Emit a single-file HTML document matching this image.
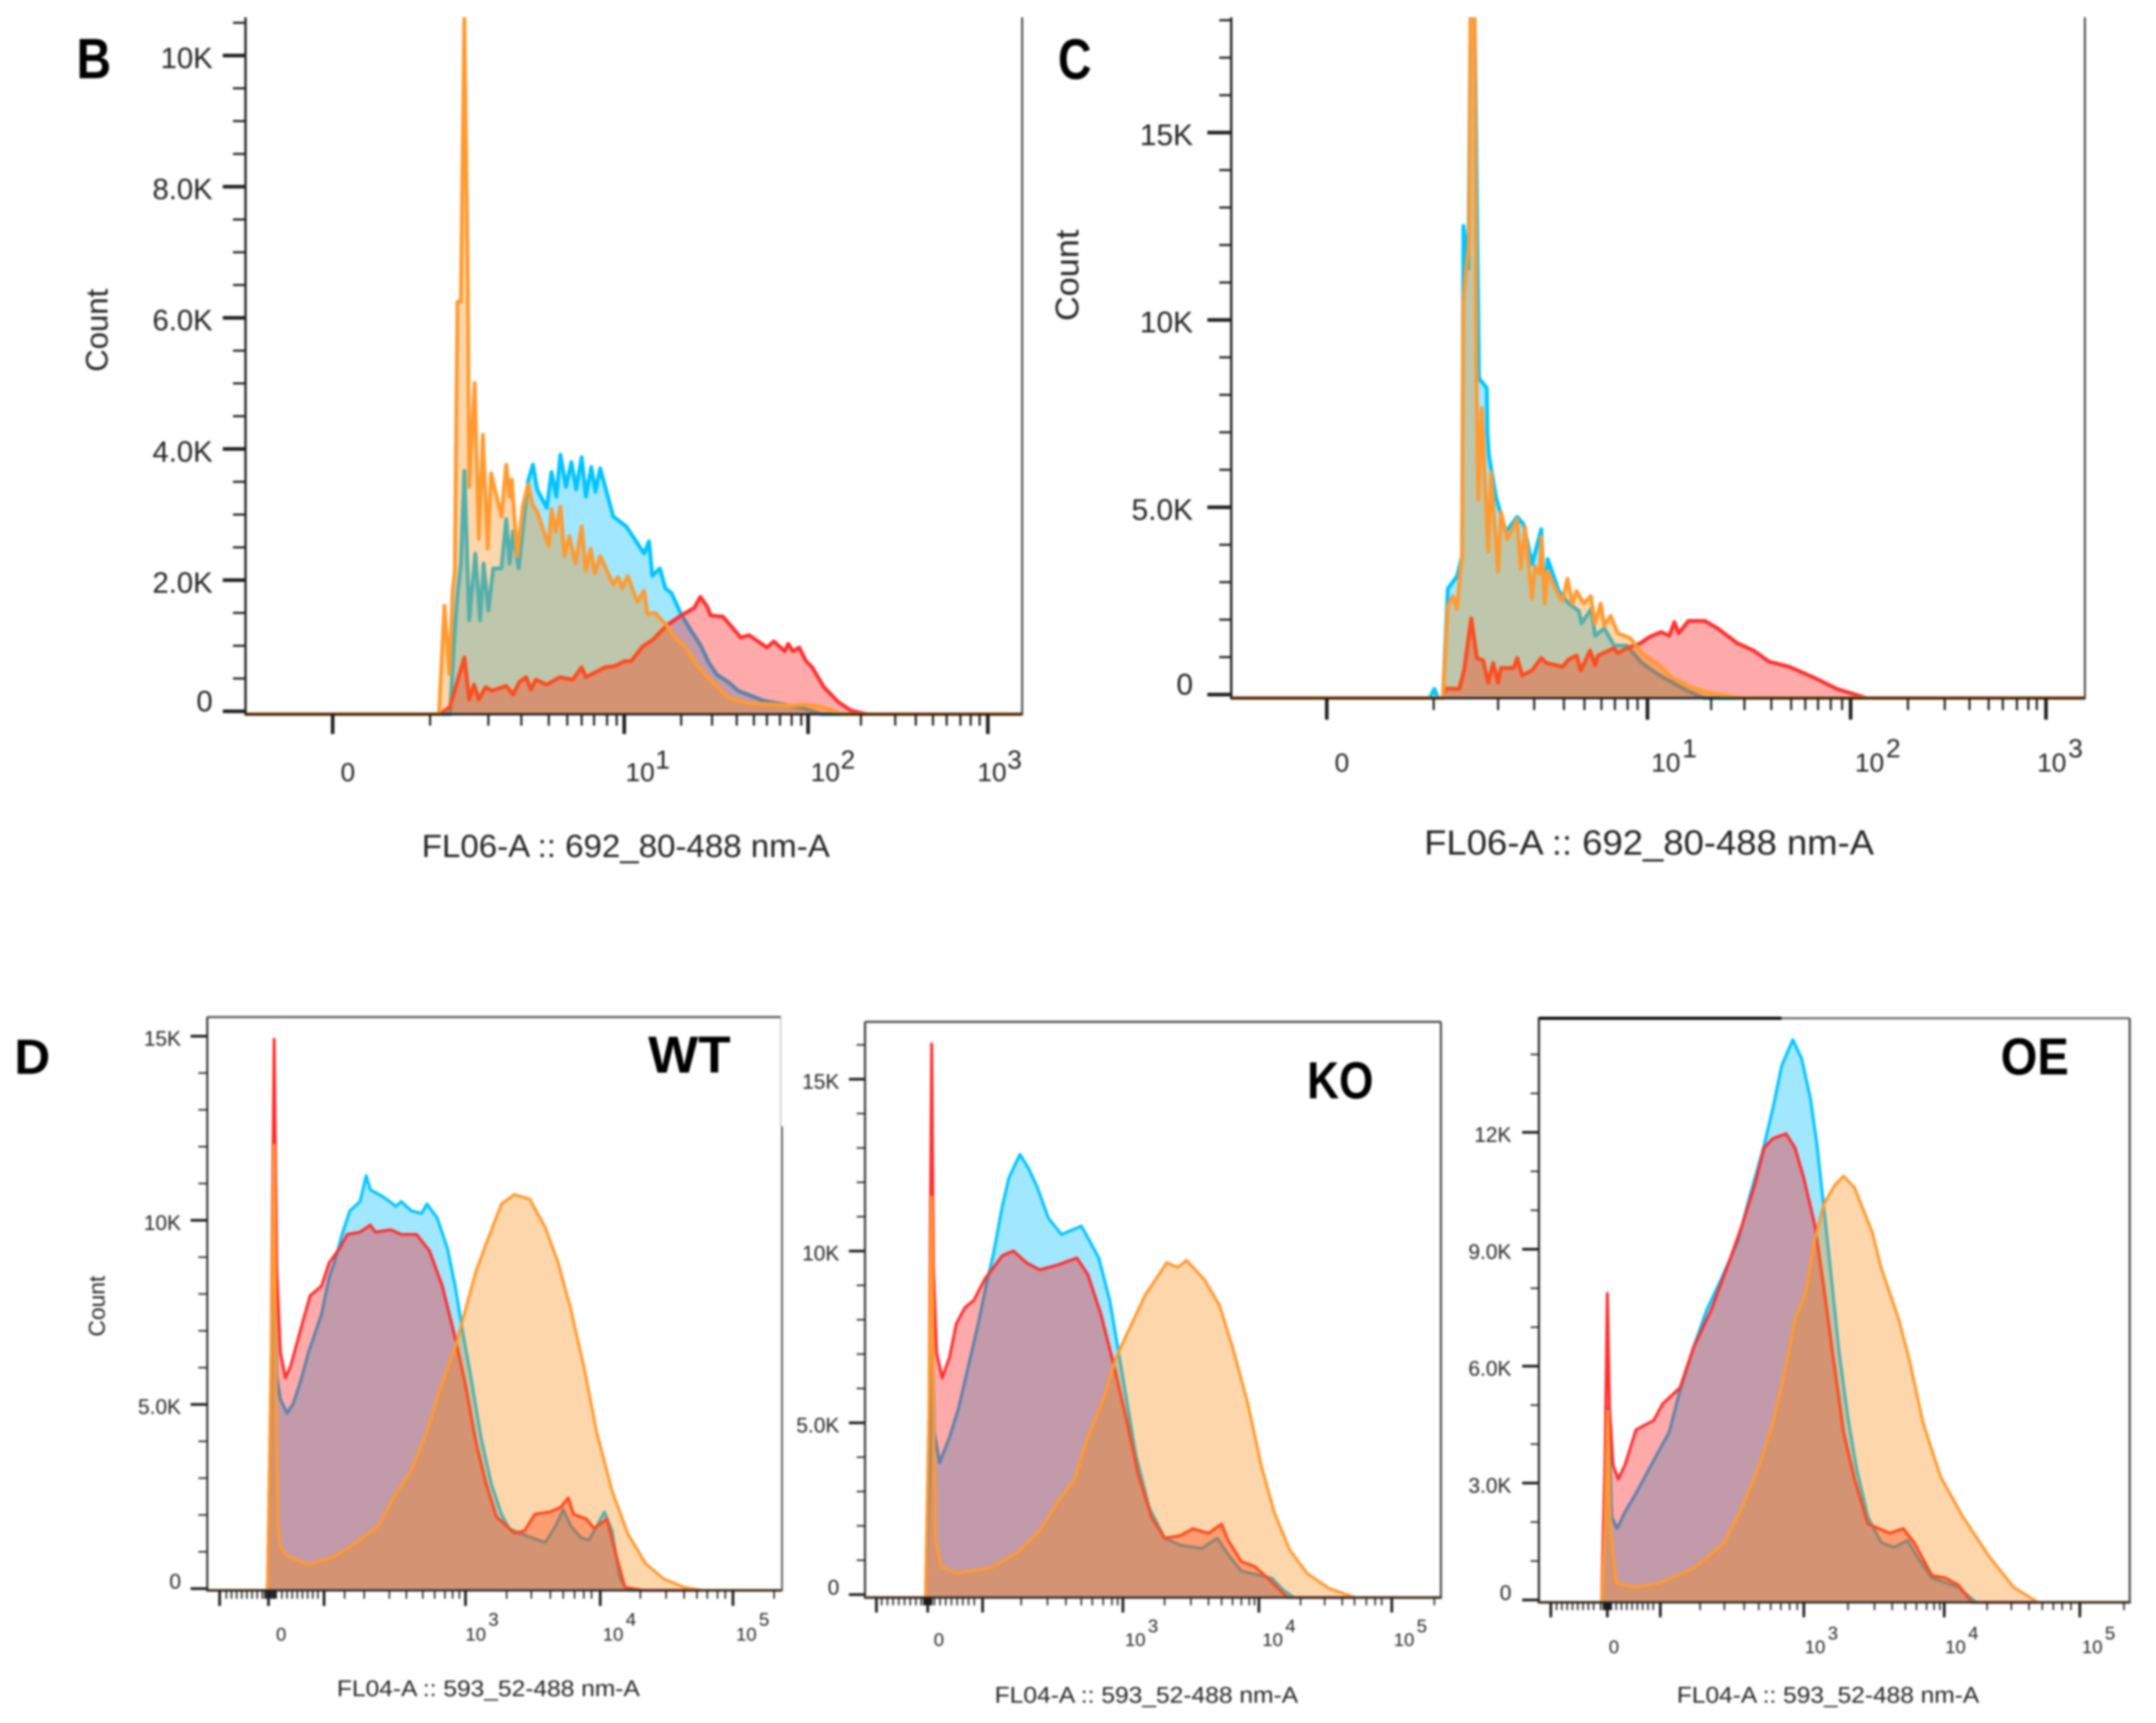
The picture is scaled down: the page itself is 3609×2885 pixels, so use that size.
<!DOCTYPE html>
<html lang="en">
<head>
<meta charset="utf-8">
<title>Flow cytometry histograms</title>
<style>
html,body{margin:0;padding:0;background:#fff;}
svg{display:block;width:3609px;height:2885px;filter:blur(1.9px);font-family:"Liberation Sans",Arial,sans-serif;}
</style>
</head>
<body>
<svg id="figure" xmlns="http://www.w3.org/2000/svg" width="3609" height="2885" viewBox="0 0 3609 2885">
<rect x="0" y="0" width="3609" height="2885" fill="#fff"/>
<g id="panel-b"></g>
<g id="panel-c"></g>
<g id="panel-wt"></g>
<g id="panel-ko"></g>
<g id="panel-oe"></g>
<g font-weight="bold" fill="#000">
<text x="128" y="131" font-size="96" textLength="58" lengthAdjust="spacingAndGlyphs">B</text>
<text x="1771" y="132" font-size="96" textLength="56" lengthAdjust="spacingAndGlyphs">C</text>
<text x="24" y="1798" font-size="83" textLength="60" lengthAdjust="spacingAndGlyphs">D</text>
<text x="1085" y="1796" font-size="87" textLength="138" lengthAdjust="spacingAndGlyphs">WT</text>
<text x="2188" y="1839" font-size="87" textLength="111" lengthAdjust="spacingAndGlyphs">KO</text>
<text x="3349" y="1799" font-size="87" textLength="114" lengthAdjust="spacingAndGlyphs">OE</text>
</g>
<g fill="#222">
<text transform="translate(180 553) rotate(-90)" text-anchor="middle" font-size="52" textLength="139" lengthAdjust="spacingAndGlyphs">Count</text>
<text transform="translate(1805 461) rotate(-90)" text-anchor="middle" font-size="55" textLength="153" lengthAdjust="spacingAndGlyphs">Count</text>
<text transform="translate(175 2187) rotate(-90)" text-anchor="middle" font-size="38" textLength="102" lengthAdjust="spacingAndGlyphs">Count</text>
<text x="706" y="1435" font-size="54" textLength="683" lengthAdjust="spacingAndGlyphs">FL06-A :: 692_80-488 nm-A</text>
<text x="2384" y="1431" font-size="58" textLength="753" lengthAdjust="spacingAndGlyphs">FL06-A :: 692_80-488 nm-A</text>
<text x="564" y="2840" font-size="38" textLength="507" lengthAdjust="spacingAndGlyphs">FL04-A :: 593_52-488 nm-A</text>
<text x="1665" y="2851" font-size="38" textLength="508" lengthAdjust="spacingAndGlyphs">FL04-A :: 593_52-488 nm-A</text>
<text x="2807" y="2851" font-size="38" textLength="506" lengthAdjust="spacingAndGlyphs">FL04-A :: 593_52-488 nm-A</text>
</g>
</svg>
<script>
/* ---------- Panel B data ---------- */
const bBlueChannels=[0,298,305,309,314,319,326,335,342,347,354,361,373,380,385,390,398,412,419,425,439,446,453,459,467,475,482,490,496,504,510,517,536,543,555,567,581,588,593,604,612,621,635,649,663,675,687,704,718,755,812,840,1132];
const bBlueCounts=[0,0,1236,1800,2254,3668,1387,2405,1387,2254,1537,2179,2179,2932,2254,2744,2179,3517,3762,3385,3102,3649,3272,3913,3423,3800,3385,3875,3272,3724,3347,3705,2970,2914,2819,2631,2405,2593,2065,2179,1877,1801,1481,1236,1010,746,557,444,312,162,48,0,0];
const bRedChannels=[0,283,298,319,326,333,340,350,359,380,390,399,409,416,423,439,458,477,490,496,524,538,553,562,579,593,614,635,654,663,673,678,696,722,734,760,770,786,791,798,807,817,826,843,864,883,907,1132];
const bRedCounts=[0,0,68,821,180,407,180,369,312,388,256,444,520,331,482,407,520,482,670,520,670,689,765,765,991,1085,1311,1462,1575,1745,1594,1462,1443,1123,1161,972,1066,915,1029,915,972,765,670,369,142,10,0,0];
const bOrangeChannels=[0,282,290,297,302,305,309,314,319,324,326,334,340,346,353,358,373,380,385,388,396,404,412,418,425,442,446,452,459,465,472,481,490,496,503,509,517,536,543,549,557,571,581,586,597,614,626,642,656,673,685,704,732,770,793,817,840,869,1132];
const bOrangeCounts=[0,0,1610,566,1830,2130,6245,6245,10580,6490,3420,5006,2630,4214,2480,3630,2970,3760,3270,3535,2367,3120,3460,3159,3045,2518,3083,2744,3121,2367,2669,2254,2819,2141,2480,2103,2367,1934,2046,1877,2065,1670,1839,1481,1500,1311,1123,972,727,520,407,200,124,105,86,105,67,0,0];
const bYTickValues=[0,2000,4000,6000,8000,10000];
const bYTickLabels=['0','2.0K','4.0K','6.0K','8.0K','10K'];
const bYMinorValues=[500,1000,1500,2500,3000,3500,4500,5000,5500,6500,7000,7500,8500,9000,9500,10500];
const bXMajorChannels=[127,552,820,1082];
const bXMinorChannels=[269,354,402,442,469,490,508,527,541,635,680,716,741,760,779,796,810,897,947,977,1002,1022,1042,1057,1070];
const bXTickBases=['0','10','10','10'];
const bXTickExponents=['','1','2','3'];

/* ---------- Panel C data ---------- */
const cBlueChannels=[0,280,287,292,299,306,319,326,328,335,338,344,350,361,362,364,374,388,404,413,425,438,443,447,463,477,491,495,509,514,527,541,559,580,605,646,669,1206];
const cBlueCounts=[0,0,150,0,0,2826,3156,3685,12513,11370,18083,18083,8444,8180,6990,6395,5272,4346,4742,4544,3487,4412,2429,3619,2759,2429,2231,1900,2297,1570,1768,1305,1305,843,512,83,0,0];
const cRedChannels=[0,298,303,322,329,339,347,356,363,370,377,381,399,404,411,425,438,445,468,477,488,494,507,514,518,541,546,559,578,591,607,619,626,632,646,669,687,715,738,760,788,824,856,898,1206];
const cRedCounts=[0,0,165,149,644,2032,975,909,314,843,314,710,710,975,512,644,975,843,743,942,1041,644,1173,777,1041,1239,1107,1239,1371,1537,1669,1570,1933,1636,1966,1966,1768,1371,1173,876,743,446,149,0,0];
const cOrangeChannels=[0,299,306,313,319,324,326,328,332,336,338,344,346,349,354,363,367,377,381,390,404,409,415,425,429,436,438,443,447,463,468,475,482,488,498,508,514,522,527,536,546,564,580,605,623,651,674,719,1206];
const cOrangeCounts=[0,0,2363,2627,2297,3355,3600,10500,11370,12000,18083,18083,9000,5200,7651,3817,5933,3288,4875,4148,4676,3355,4478,2561,3421,3222,4214,2429,3288,2627,2495,3090,2429,2759,2429,2627,1900,2429,1834,2099,1636,1504,1107,777,446,181,50,0,0];
const cYTickValues=[0,5000,10000,15000];
const cYTickLabels=['0','5.0K','10K','15K'];
const cYMinorValues=[1000,2000,3000,4000,6000,7000,8000,9000,11000,12000,13000,14000,16000,17000,18000];
const cXMajorChannels=[135,588,875,1151];
const cXMinorChannels=[286,377,428,470,499,523,542,560,574,678,725,763,791,811,829,847,863,956,1008,1043,1070,1090,1110,1126,1138];
const cXTickBases=['0','10','10','10'];
const cXTickExponents=['','1','2','3'];

/* ---------- Panel WT data ---------- */
const wtBlueChannels=[0,117,122,130,135,142,155,167,182,197,222,237,247,262,277,297,309,317,342,367,377,397,417,427,447,467,482,497,512,532,552,572,587,607,632,657,677,692,707,727,742,772,787,802,817,1115];
const wtBlueCounts=[0,0,3614,10000,5785,5146,4763,5019,5657,6423,7445,8467,8850,9616,10254,10510,11212,10829,10637,10382,10510,10254,10190,10446,10063,9233,8211,6934,5785,4125,2848,2018,1635,1507,1379,1251,1698,2145,1698,1379,1315,2082,1571,294,0,0];
const wtRedChannels=[0,117,124,130,135,142,152,162,182,200,222,237,257,272,297,317,327,357,377,407,432,457,482,502,522,542,562,597,617,637,667,687,702,712,737,752,777,792,812,847,1115];
const wtRedCounts=[0,0,6168,14915,8722,6423,5721,6040,7062,7956,8211,8850,9233,9616,9680,9871,9680,9744,9616,9616,9169,8211,6806,5529,3997,2848,1954,1507,1571,2018,2082,2209,2465,2018,1890,1635,1890,1060,38,0,0];
const wtOrangeChannels=[0,117,124,130,134,137,142,157,197,247,297,332,362,397,427,452,482,502,522,542,572,597,627,657,682,707,732,757,787,817,852,887,927,962,1115];
const wtOrangeCounts=[0,0,6168,12042,4891,1698,1124,868,651,868,1315,1698,2465,3231,4252,5402,6551,7573,8594,9360,10446,10701,10574,9807,8850,7573,6040,4252,2656,1507,677,268,38,0,0];
const wtYTickValues=[0,5000,10000,15000];
const wtYTickLabels=['0','5.0K','10K','15K'];
const wtYMinorValues=[1000,2000,3000,4000,6000,7000,8000,9000,11000,12000,13000,14000];
const wtXMajorChannels=[24,119,227,502,764,1022];
const wtXMinorChannels=[37,47,57,67,77,87,97,107,112,115,122,125,128,131,134,145,155,165,175,185,195,205,215,267,305,354,387,419,442,462,477,490,582,630,667,692,714,732,747,842,892,927,952,972,992,1007,1102];
const wtXTickBases=['0','10','10','10'];
const wtXTickExponents=['','3','4','5'];

/* ---------- Panel KO data ---------- */
const koBlueChannels=[0,138,148,153,158,170,193,213,233,258,278,293,313,328,353,373,393,418,448,493,513,533,558,578,598,618,648,683,718,768,803,828,858,928,953,978,1313];
const koBlueCounts=[0,0,4042,8150,4727,3836,4590,5412,6508,7878,9111,9933,11303,12125,12810,12399,11851,10960,10481,10727,10275,9796,8563,7056,5549,4042,2535,1644,1439,1343,1644,1165,685,480,137,0,0];
const koRedChannels=[0,138,146,152,156,163,176,193,208,228,248,273,293,313,338,368,398,438,483,508,538,568,598,623,653,683,718,748,783,813,828,858,888,918,963,1313];
const koRedCounts=[0,0,5412,16029,9522,7056,6302,6919,7878,8357,8563,9179,9522,9864,10001,9659,9453,9590,9796,9316,8152,6645,5001,3494,2261,1644,1713,1918,1781,2055,1576,959,822,480,0,0];
const koOrangeChannels=[0,138,146,152,156,161,173,208,288,348,398,438,478,508,543,573,608,638,663,688,713,733,773,808,838,873,903,933,968,1008,1058,1118,1153,1313];
const koOrangeCounts=[0,0,5412,11577,5412,1576,822,617,781,1233,1850,2672,3357,4590,5686,6919,7878,8700,9179,9659,9522,9727,9179,8426,7193,5549,3768,2398,1302,617,178,0,0,0];
const koYTickValues=[0,5000,10000,15000];
const koYTickLabels=['0','5.0K','10K','15K'];
const koYMinorValues=[1000,2000,3000,4000,6000,7000,8000,9000,11000,12000,13000,14000,16000];
const koXMajorChannels=[26,143,268,588,898,1201];
const koXMinorChannels=[38,51,64,77,90,103,116,128,134,137,140,146,149,152,158,171,184,197,210,223,236,249,356,416,458,493,518,543,563,576,683,743,783,813,838,858,876,888,993,1048,1088,1116,1143,1163,1178,1298];
const koXTickBases=['0','10','10','10'];
const koXTickExponents=['','3','4','5'];

/* ---------- Panel OE data ---------- */
const oeBlueChannels=[0,142,150,157,165,177,195,220,260,295,320,350,380,410,450,480,510,530,550,575,595,615,630,645,660,680,700,720,745,775,805,835,860,890,950,990,1338];
const oeBlueCounts=[0,0,2496,4908,2135,1833,2255,2738,3582,4305,5391,6476,7441,8165,9190,10456,11662,12627,13712,14376,13893,12868,11662,10094,8526,6356,4667,3341,2135,1471,1351,1532,1049,567,326,0,0];
const oeRedChannels=[0,142,150,155,160,168,180,195,220,260,280,320,350,390,430,460,490,510,530,560,580,600,625,645,665,690,715,745,795,825,850,890,920,950,980,1338];
const oeRedCounts=[0,0,3702,7863,4908,3461,3099,3461,4366,4607,5029,5451,6476,7441,8647,9612,10697,11602,11843,11963,11602,10818,9612,8044,6356,4305,3099,1954,1713,1833,1471,627,567,386,0,0];
const oeOrangeChannels=[0,142,150,156,162,175,215,270,350,420,460,500,530,555,580,605,625,645,670,690,715,755,775,815,840,870,910,960,1020,1075,1130,1338];
const oeOrangeCounts=[0,0,1893,4848,1893,446,326,422,808,1471,2376,3461,4546,5752,7199,7923,9250,10154,10637,10878,10576,9431,8526,7199,6114,4546,3160,2135,1109,326,0,0];
const oeYTickValues=[0,3000,6000,9000,12000];
const oeYTickLabels=['0','3.0K','6.0K','9.0K','12K'];
const oeYMinorValues=[1000,2000,4000,5000,7000,8000,10000,11000,13000,14000];
const oeXMajorChannels=[27,155,275,600,918,1225];
const oeXMinorChannels=[40,52,64,76,88,100,112,124,140,146,149,152,158,161,164,175,187,199,211,223,235,247,259,365,420,465,498,525,548,568,585,700,760,800,830,855,878,895,908,1015,1070,1110,1140,1165,1185,1205,1325];
const oeXTickBases=['0','10','10','10'];
const oeXTickExponents=['','3','4','5'];

const SVG_NS='http://www.w3.org/2000/svg';
const INK='#1c1c1c';

function make(tag,parent,props){
  const el=document.createElementNS(SVG_NS,tag);
  for(const k in props){el.setAttribute(k,props[k]);}
  parent.appendChild(el);
  return el;
}

function drawPanel(p){
  const root=document.getElementById('panel-'+p.key);
  const sx=(p.right-p.left)/p.channelMax;
  const xScale=function(ch){return p.left+ch*sx;};
  const yScale=function(v){return v>0?p.zeroY-v*p.pxPerCount:p.base;};

  const clip=make('clipPath',root,{id:'clip-'+p.key});
  make('rect',clip,{x:p.left,y:p.top,width:p.right-p.left,height:p.base-p.top+3});

  const plot=make('g',root,{'clip-path':'url(#clip-'+p.key+')'});
  
  

  for(const s of p.series){
    let line='';
    for(let i=0;i<s.channels.length&&i<s.counts.length;i++){
      line+=(i?'L':'M')+xScale(s.channels[i]).toFixed(1)+' '+yScale(s.counts[i]).toFixed(1);
    }
    const area=make('path',plot,{d:line+'L'+p.right+' '+p.base+'L'+p.left+' '+p.base+'Z',fill:s.fill,stroke:'none'});
    
    
    const curve=make('path',plot,{d:line,fill:'none',stroke:s.stroke,'stroke-width':p.strokeWidth,'stroke-linejoin':'round'});
    
    
  }

  const axes=make('g',root,{stroke:INK,fill:'none'});
  
  

  for(const seg of p.frame){
    const ln=make('line',axes,{x1:seg[0],y1:seg[1],x2:seg[2],y2:seg[3],stroke:seg[4],'stroke-width':seg[5]});
    
    
  }

  for(const v of p.yMinor){
    const t=make('line',axes,{x1:p.left-p.yMinorLen,y1:yScale(v),x2:p.left,y2:yScale(v),'stroke-width':p.minorWidth});
    
    
  }
  p.yValues.forEach(function(v,i){
    const y=v>0?yScale(v):p.zeroY;
    const t=make('line',axes,{x1:p.left-p.yMajorLen,y1:y,x2:p.left,y2:y,'stroke-width':p.majorWidth});
    
    
    const lab=make('text',root,{x:p.yLabelRight,y:v>0?y+p.yLabelDrop:y,'text-anchor':'end','font-size':p.yFont,fill:'#222'});
    lab.textContent=p.yLabels[i];
    
    
  });

  for(const ch of p.xMinor){
    const t=make('line',axes,{x1:xScale(ch),y1:p.base,x2:xScale(ch),y2:p.base+p.xMinorLen,'stroke-width':p.minorWidth});
    
    
  }
  for(const ch of p.xMajor){
    const t=make('line',axes,{x1:xScale(ch),y1:p.base,x2:xScale(ch),y2:p.base+p.xMajorLen,'stroke-width':p.majorWidth});
    
    
  }

  p.xBases.forEach(function(b,i){
    const lab=make('text',root,{x:p.xLabelStarts[i],y:p.xLabelY,'font-size':p.xFont,fill:'#222'});
    
    
    lab.appendChild(document.createTextNode(b));
    if(p.xExps[i]){
      const sup=make('tspan',lab,{dx:p.supGap,dy:-p.supRise});
      sup.textContent=p.xExps[i];
    }
  });
}

const BLUE={name:'blue',fill:'rgba(0,190,255,.37)',stroke:'#00c4ff'};
const RED={name:'red',fill:'rgba(255,12,12,.35)',stroke:'#ff2f2f'};
const ORANGE={name:'orange',fill:'rgba(250,135,0,.33)',stroke:'#ff9a30'};
function trio(bc,bv,rc,rv,oc,ov){
  return [Object.assign({channels:bc,counts:bv},BLUE),Object.assign({channels:rc,counts:rv},RED),Object.assign({channels:oc,counts:ov},ORANGE)];
}

drawPanel({key:'b',left:411,right:1711,top:29,base:1196,zeroY:1191,pxPerCount:0.1098,channelMax:1132,strokeWidth:6.5,
  series:trio(bBlueChannels,bBlueCounts,bRedChannels,bRedCounts,bOrangeChannels,bOrangeCounts),
  frame:[[411,29,411,1198,'#222',4],[409,1196,1711,1196,'#222',4],[1711,29,1711,1198,'#333',3]],
  yValues:bYTickValues,yLabels:bYTickLabels,yMinor:bYMinorValues,xMajor:bXMajorChannels,xMinor:bXMinorChannels,xBases:bXTickBases,xExps:bXTickExponents,
  yMajorLen:38,yMinorLen:21,xMajorLen:33,xMinorLen:19,majorWidth:6,minorWidth:3.5,yLabelRight:356,yLabelDrop:21,yFont:49,
  xLabelStarts:[570,1047,1357,1636],xLabelY:1308,xFont:44,supGap:1,supRise:21});

drawPanel({key:'c',left:2061,right:3490,top:29,base:1169,zeroY:1163,pxPerCount:0.06273,channelMax:1206,strokeWidth:6.5,
  series:trio(cBlueChannels,cBlueCounts,cRedChannels,cRedCounts,cOrangeChannels,cOrangeCounts),
  frame:[[2061,29,2061,1171,'#222',4],[2059,1169,3490,1169,'#222',4],[3490,29,3490,1171,'#333',3]],
  yValues:cYTickValues,yLabels:cYTickLabels,yMinor:cYMinorValues,xMajor:cXMajorChannels,xMinor:cXMinorChannels,xBases:cXTickBases,xExps:cXTickExponents,
  yMajorLen:40,yMinorLen:20,xMajorLen:36,xMinorLen:20,majorWidth:6,minorWidth:3.5,yLabelRight:1997,yLabelDrop:21,yFont:50,
  xLabelStarts:[2234,2764,3105,3410],xLabelY:1292,xFont:44,supGap:3,supRise:24});

drawPanel({key:'wt',left:347,right:1307,top:1703,base:2663,zeroY:2660,pxPerCount:0.06167,channelMax:1115,strokeWidth:5,
  series:trio(wtBlueChannels,wtBlueCounts,wtRedChannels,wtRedCounts,wtOrangeChannels,wtOrangeCounts),
  frame:[[347,1703,1307,1703,'#555',3.5],[347,1703,347,2665,'#333',3.5],[345,2663,1309,2663,'#333',4],[1307,1703,1307,1886,'#bbb',2],[1309,1886,1309,2665,'#555',3]],
  yValues:wtYTickValues,yLabels:wtYTickLabels,yMinor:wtYMinorValues,xMajor:wtXMajorChannels,xMinor:wtXMinorChannels,xBases:wtXTickBases,xExps:wtXTickExponents,
  yMajorLen:28,yMinorLen:15,xMajorLen:26,xMinorLen:14,majorWidth:4.5,minorWidth:2.5,yLabelRight:303,yLabelDrop:16,yFont:35,
  xLabelStarts:[462,779,1009,1232],xLabelY:2747,xFont:31,supGap:4,supRise:25});

drawPanel({key:'ko',left:1448,right:2412,top:1711,base:2675,zeroY:2670,pxPerCount:0.05753,channelMax:1313,strokeWidth:5,
  series:trio(koBlueChannels,koBlueCounts,koRedChannels,koRedCounts,koOrangeChannels,koOrangeCounts),
  frame:[[1448,1711,2412,1711,'#444',3.5],[1448,1711,1448,2677,'#333',3.5],[1446,2675,2414,2675,'#333',4],[2412,1711,2412,2677,'#444',3.5]],
  yValues:koYTickValues,yLabels:koYTickLabels,yMinor:koYMinorValues,xMajor:koXMajorChannels,xMinor:koXMinorChannels,xBases:koXTickBases,xExps:koXTickExponents,
  yMajorLen:27,yMinorLen:14,xMajorLen:25,xMinorLen:13,majorWidth:4.5,minorWidth:2.5,yLabelRight:1405,yLabelDrop:16,yFont:35,
  xLabelStarts:[1563,1883,2113,2333],xLabelY:2756,xFont:31,supGap:4,supRise:23});

drawPanel({key:'oe',left:2576,right:3565,top:1705,base:2683,zeroY:2679,pxPerCount:0.06525,channelMax:1338,strokeWidth:5,
  series:trio(oeBlueChannels,oeBlueCounts,oeRedChannels,oeRedCounts,oeOrangeChannels,oeOrangeCounts),
  frame:[[2982,1705,3565,1705,'#666',3.5],[2576,1705,2982,1705,'#000',5],[2576,1703,2576,2685,'#222',3.5],[2574,2683,3567,2683,'#333',4],[3565,1705,3565,2685,'#444',3.5]],
  yValues:oeYTickValues,yLabels:oeYTickLabels,yMinor:oeYMinorValues,xMajor:oeXMajorChannels,xMinor:oeXMinorChannels,xBases:oeXTickBases,xExps:oeXTickExponents,
  yMajorLen:28,yMinorLen:14,xMajorLen:25,xMinorLen:13,majorWidth:4.5,minorWidth:2.5,yLabelRight:2530,yLabelDrop:16,yFont:35,
  xLabelStarts:[2693,3021,3256,3485],xLabelY:2768,xFont:31,supGap:4,supRise:23});
</script>
</body>
</html>
